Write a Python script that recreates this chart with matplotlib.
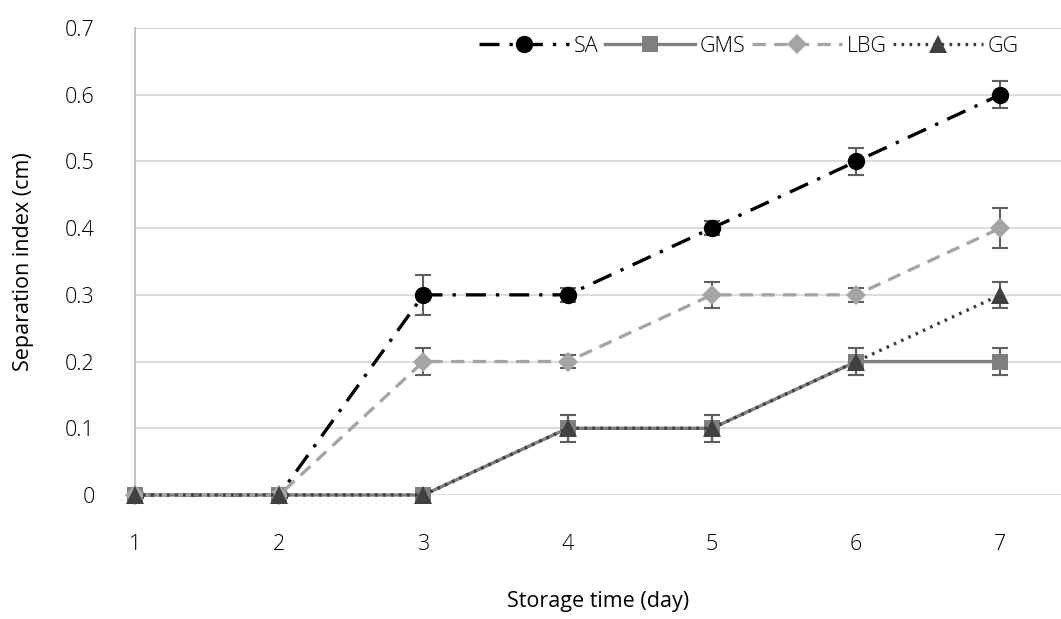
import numpy as np
import matplotlib.pyplot as plt

plt.rcParams['font.family'] = ['Open Sans', 'DejaVu Sans']
plt.rcParams['font.weight'] = 'light'

############################# DATA ###################################
days = [1, 2, 3, 4, 5, 6, 7]
sa = [0, 0, 0.3, 0.3, 0.4, 0.5, 0.6]
sa_err = [0, 0, 0.03, 0.01, 0.01, 0.02, 0.02]
gms = [0, 0, 0, 0.1, 0.1, 0.2, 0.2]
gms_err = [0, 0, 0, 0.02, 0.02, 0.02, 0.02]
lbg = [0, 0, 0.2, 0.2, 0.3, 0.3, 0.4]
lbg_err = [0, 0, 0.02, 0.01, 0.02, 0.01, 0.03]
gg = [0, 0, 0, 0.1, 0.1, 0.2, 0.3]
gg_err = [0, 0, 0, 0.02, 0.02, 0.02, 0.02]

series = [
    ('SA', sa, sa_err, '#000000', (0, (6, 3, 1, 3)), 'o', 12.5),
    ('GMS', gms, gms_err, '#7f7f7f', '-', 's', 12),
    ('LBG', lbg, lbg_err, '#a5a5a5', (0, (4, 2.5)), 'D', 10.5),
    ('GG', gg, gg_err, '#404040', (0, (0.8, 1.6)), '^', 12.5),
]

############################# PLOT ###################################
fig = plt.figure(figsize=(10.61, 6.19), dpi=100)
ax = fig.add_axes([135/1061, 1 - 495/619, 1 - 135/1061, (495 - 28)/619])

for name, vals, errs, col, ls, mk, ms in series:
    ax.errorbar(days, vals, yerr=errs, fmt='none', ecolor='#5f5f5f',
                elinewidth=1.5, capsize=6, capthick=1.5, zorder=3)
    ax.plot(days, vals, color=col, ls=ls, lw=2.4, marker=mk, ms=ms,
            markeredgewidth=0, label=name, zorder=4, clip_on=False)

fs = 15.5
ax.set_xlim(1, 7.42)
ax.set_ylim(0, 0.7)
ax.set_xticks(days)
ax.set_yticks(np.arange(0, 0.71, 0.1))
ax.set_yticklabels(['0', '0.1', '0.2', '0.3', '0.4', '0.5', '0.6', '0.7'])
ax.grid(axis='y', color='#d9d9d9', lw=1.3)
ax.set_axisbelow(True)
for s in ['top', 'right', 'bottom']:
    ax.spines[s].set_visible(False)
ax.spines['left'].set_color('#bfbfbf')
ax.spines['left'].set_linewidth(1.3)
ax.tick_params(length=0, labelsize=fs, colors='#000000')
ax.tick_params(axis='x', pad=28)
ax.tick_params(axis='y', pad=29)
ax.set_xlabel('Storage time (day)', fontsize=fs, labelpad=26)
ax.set_ylabel('Separation index (cm)', fontsize=fs, labelpad=22)

ax.legend(loc='upper right', ncol=4, frameon=False, fontsize=fs,
          bbox_to_anchor=(0.975, 1.025), handlelength=4.2, columnspacing=0.3,
          handletextpad=0.2)

fig.savefig('out.png', dpi=100)
